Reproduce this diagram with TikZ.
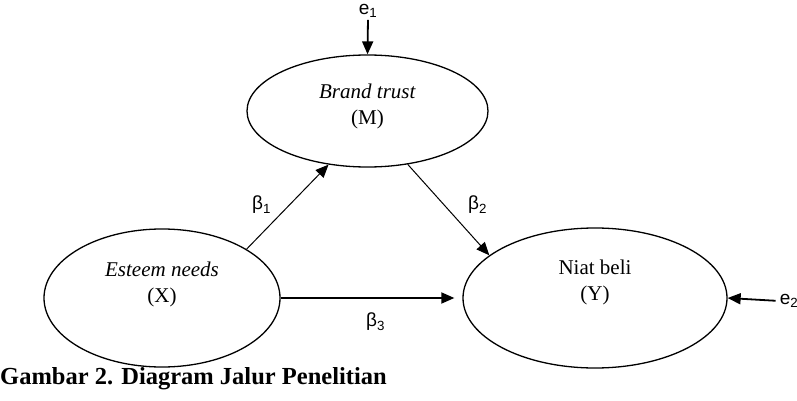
\documentclass[tikz,border=0pt]{standalone}
\usepackage{fontspec}
\setmainfont{Liberation Serif}
\newfontfamily\coeffont{Liberation Sans}
\usetikzlibrary{arrows.meta, positioning, shapes.geometric, calc}

\begin{document}
\begin{tikzpicture}[
    x=1pt, y=-1pt,
    var/.style={draw, ellipse, line width=1.3pt, inner sep=0pt},
    vartext/.style={align=center, inner sep=0pt, font=\fontsize{21}{26}\selectfont},
    coef/.style={inner sep=0pt, font=\coeffont\fontsize{19}{22}\selectfont},
    link/.style={draw, -{Triangle[length=13pt, width=11pt]}, line width=1pt},
    thicklink/.style={draw, -{Triangle[length=13pt, width=11pt]}, line width=1.8pt},
    caption/.style={inner sep=0pt, anchor=base west, font=\bfseries\fontsize{24.5}{28}\selectfont}
]
    \useasboundingbox (0,0) rectangle (797,401);

    % Variables
    \node[var, minimum width=241pt, minimum height=112pt] (m) at (367.5,111) {};
    \node[var, minimum width=236pt, minimum height=138pt] (x) at (162,298) {};
    \node[var, minimum width=264pt, minimum height=140pt] (y) at (595,298) {};

    \node[vartext] (mtext) at ([yshift=4.5pt]m.center) {\textit{Brand trust}\\(M)};
    \node[vartext] (xtext) at ([yshift=14pt]x.center) {\textit{Esteem needs}\\(X)};
    \node[vartext] (ytext) at ([yshift=15.5pt]y.center) {Niat beli\\(Y)};

    % Error terms
    \node[coef] (e1) at (368,11) {e\textsubscript{1}};
    \node[coef] (e2) at (789,301) {e\textsubscript{2}};

    % Paths
    \draw[link] (x.30.5) -- (m.234.3) node[midway, xshift=-26pt, yshift=2pt, coef] {β\textsubscript{1}};
    \draw[link] (m.307.7) -- (y.158.1) node[midway, xshift=29pt, yshift=5pt, coef] {β\textsubscript{2}};
    \draw[thicklink, shorten >=8pt] (x.east) -- (y.west) node[midway, xshift=4pt, yshift=-24pt, coef] {β\textsubscript{3}};
    \draw[thicklink, shorten <=2pt] (e1.south) -- (m.north);
    \draw[thicklink, shorten <=4pt] (e2.west) -- (y.east);

    \node[caption] (cap) at (0,384) {Gambar 2. Diagram Jalur Penelitian};
\end{tikzpicture}
\end{document}
